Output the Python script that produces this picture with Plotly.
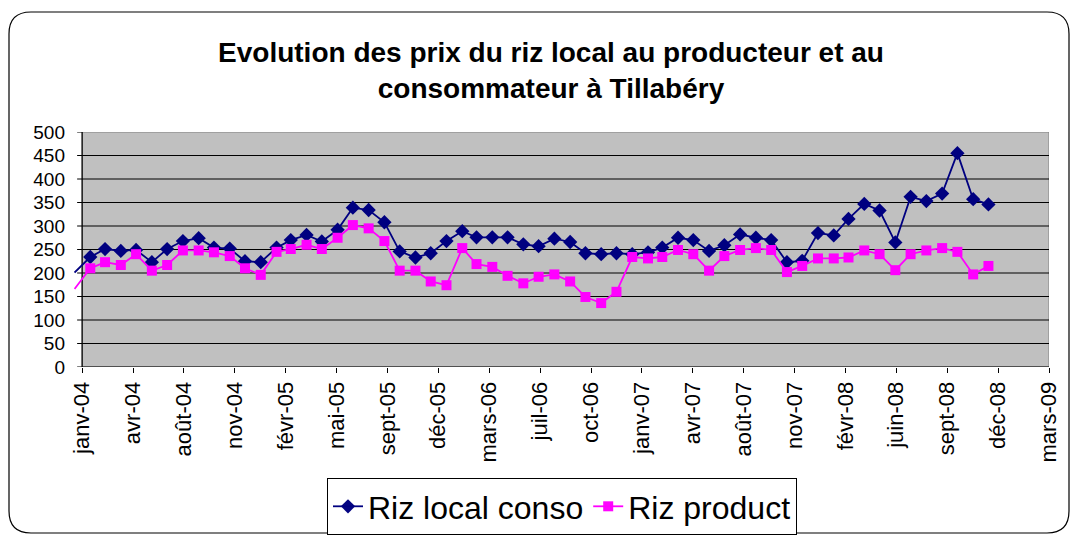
import pandas as pd
import plotly.graph_objects as go

# ---- data ----
months = list(pd.date_range("2004-01-01", periods=60, freq="MS"))

riz_local_conso = [201, 234, 251, 247, 249, 223, 251, 268, 274, 254,
                   252, 225, 223, 254, 270, 281, 267, 292, 339, 334,
                   308, 246, 233, 242, 268, 289, 276, 276, 276, 261,
                   257, 273, 266, 242, 240, 242, 240, 244, 254, 275,
                   270, 247, 259, 282, 275, 270, 223, 226, 285, 280,
                   315, 347, 333, 265, 362, 353, 369, 455, 357, 346]

riz_product = [166, 210, 223, 217, 240, 205, 217, 248, 248, 244,
               236, 210, 196, 245, 251, 260, 251, 275, 302, 295,
               268, 205, 205, 182, 174, 253, 219, 213, 194, 178,
               192, 197, 182, 149, 136, 160, 234, 231, 234, 249,
               240, 205, 236, 249, 253, 249, 202, 215, 231, 231,
               233, 248, 240, 206, 240, 248, 253, 245, 197, 215]

x_tick_labels = ["janv-04", "avr-04", "août-04", "nov-04", "févr-05", "mai-05",
                 "sept-05", "déc-05", "mars-06", "juil-06", "oct-06", "janv-07",
                 "avr-07", "août-07", "nov-07", "févr-08", "juin-08", "sept-08",
                 "déc-08", "mars-09"]
y_tick_values = [0, 50, 100, 150, 200, 250, 300, 350, 400, 450, 500]

title_text = "<b>Evolution des prix du riz local au producteur et au<br>consommateur à Tillabéry</b>"

# ---- axis scheme (Excel date axis, major unit 100 days) ----
axis_start = pd.Timestamp("2004-01-16")
x_tick_vals = [axis_start + pd.Timedelta(days=100 * i) for i in range(len(x_tick_labels))]
axis_end = x_tick_vals[-1]
range_start = months[0] - pd.Timedelta(days=1)

FONT = "Liberation Sans, Arial, sans-serif"
NAVY = "#000080"
MAGENTA = "#FF00FF"

first_hidden = [0] + [1] * (len(months) - 1)

fig = go.Figure()
fig.add_trace(go.Scatter(
    x=months, y=riz_local_conso, name="Riz local conso", mode="lines+markers",
    line=dict(color=NAVY, width=1.8),
    marker=dict(symbol="diamond", size=11, color=NAVY, opacity=first_hidden),
))
fig.add_trace(go.Scatter(
    x=months, y=riz_product, name="Riz product", mode="lines+markers",
    line=dict(color=MAGENTA, width=1.8),
    marker=dict(symbol="square", size=10, color=MAGENTA, opacity=first_hidden),
))

L, R, T, B = 74, 27, 132, 169
W, H = 1076, 536
pw, ph = W - L - R, H - T - B


def fx(px):
    return (px - L) / pw


def fy(py):
    return (H - B - py) / ph


shapes = []
# plot area background
shapes.append(dict(type="rect", xref="x", yref="y", x0=axis_start, x1=axis_end,
                   y0=0, y1=500, fillcolor="#C0C0C0",
                   line=dict(color="#808080", width=1), layer="below"))
# gridlines
for v in y_tick_values[1:-1]:
    shapes.append(dict(type="line", xref="x", yref="y", x0=axis_start, x1=axis_end,
                       y0=v, y1=v, line=dict(color="black", width=1), layer="below"))
# axis lines
shapes.append(dict(type="line", xref="x", yref="y", x0=axis_start, x1=axis_start,
                   y0=0, y1=500, line=dict(color="black", width=1.2), layer="below"))
shapes.append(dict(type="line", xref="x", yref="y", x0=axis_start, x1=axis_end,
                   y0=0, y1=0, line=dict(color="black", width=1.2), layer="below"))
# y tick marks
for v in y_tick_values:
    shapes.append(dict(type="line", xref="x", yref="y", xsizemode="pixel",
                       xanchor=axis_start, x0=-5, x1=0, y0=v, y1=v,
                       line=dict(color="black", width=1)))

# outer rounded border
bl, br, bt, bb, rad = 9, 1069, 12, 533, 22
path = (f"M {fx(bl + rad)},{fy(bt)} L {fx(br - rad)},{fy(bt)} "
        f"Q {fx(br)},{fy(bt)} {fx(br)},{fy(bt + rad)} "
        f"L {fx(br)},{fy(bb - rad)} Q {fx(br)},{fy(bb)} {fx(br - rad)},{fy(bb)} "
        f"L {fx(bl + rad)},{fy(bb)} Q {fx(bl)},{fy(bb)} {fx(bl)},{fy(bb - rad)} "
        f"L {fx(bl)},{fy(bt + rad)} Q {fx(bl)},{fy(bt)} {fx(bl + rad)},{fy(bt)} Z")
shapes.append(dict(type="path", xref="paper", yref="paper", path=path,
                   line=dict(color="black", width=1.2)))

fig.update_layout(
    width=W, height=H,
    margin=dict(l=L, r=R, t=T, b=B, autoexpand=False),
    paper_bgcolor="white", plot_bgcolor="white",
    font=dict(family=FONT, color="black"),
    title=dict(text=title_text, x=551 / W, xanchor="center", xref="container",
               y=1 - 62 / H, yanchor="middle", yref="container",
               font=dict(size=28, family=FONT, color="black")),
    xaxis=dict(range=[range_start, axis_end], tickvals=x_tick_vals, ticktext=x_tick_labels,
               tickangle=-90, ticks="outside", ticklen=5, tickcolor="black",
               showgrid=False, zeroline=False, showline=False, automargin=False,
               tickfont=dict(size=22, family=FONT, color="black")),
    yaxis=dict(range=[0, 500], tickvals=y_tick_values, ticks="", showgrid=False,
               zeroline=False, showline=False, ticklabelstandoff=8, automargin=False,
               tickfont=dict(size=19, family=FONT, color="black")),
    legend=dict(orientation="h", x=fx(562), xanchor="center", y=fy(478), yanchor="top",
                bordercolor="black", borderwidth=1, bgcolor="white",
                font=dict(size=32, family=FONT, color="black")),
    shapes=shapes,
    showlegend=True,
)

fig.write_html("out.html", config={"displayModeBar": False},
               post_script="document.body.style.margin='0';")
